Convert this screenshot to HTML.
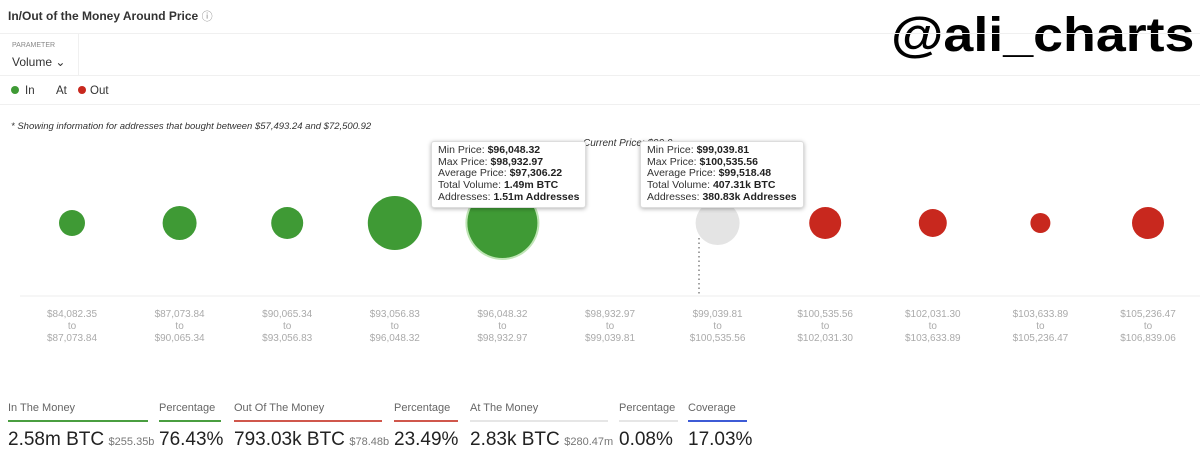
<!DOCTYPE html>
<html><head><meta charset="utf-8"><style>
body{margin:0;width:1200px;height:457px;background:#fff;font-family:"Liberation Sans",sans-serif;position:relative;overflow:hidden;color:#222}
.a{position:absolute;white-space:nowrap}
.tt{position:absolute;background:#fff;border:1px solid #ddd;box-shadow:0 1px 4px rgba(0,0,0,.3);border-radius:3px;padding:3px 6px;font-size:10.5px;line-height:11.7px;color:#333}
.tt b{color:#222}
.lab{font-size:11px;color:#666}
.val{font-size:19px;color:#222}
.sub{font-size:11px;color:#777}
</style></head><body>
<div class="a" style="left:8px;top:8px;font-size:12px;font-weight:bold;color:#333">In/Out of the Money Around Price <span style="font-weight:normal;color:#888;font-size:11px">ⓘ</span></div>
<div class="a" style="left:891px;top:8px;font-size:48px;font-weight:bold;color:#000;transform:scaleX(1.12);transform-origin:left top">@ali_charts</div>
<div class="a" style="left:0;top:33px;width:1200px;height:1px;background:#f0f0f0"></div>
<div class="a" style="left:78px;top:33px;width:1px;height:42px;background:#f0f0f0"></div>
<div class="a" style="left:12px;top:42px;font-size:7px;color:#888">PARAMETER</div>
<div class="a" style="left:12px;top:55px;font-size:12px;color:#333">Volume ⌄</div>
<div class="a" style="left:0;top:75px;width:1200px;height:1px;background:#f0f0f0"></div>
<div class="a" style="left:11px;top:85px;font-size:11.5px;color:#333"><span style="display:inline-block;width:8px;height:8px;border-radius:50%;background:#3f9a35;margin-right:6px"></span>In</div>
<div class="a" style="left:56px;top:85px;font-size:11.5px;color:#333">At</div>
<div class="a" style="left:78px;top:85px;font-size:11.5px;color:#333"><span style="display:inline-block;width:8px;height:8px;border-radius:50%;background:#c8281e;margin-right:4px"></span>Out</div>
<div class="a" style="left:0;top:104px;width:1200px;height:1px;background:#f0f0f0"></div>
<div class="a" style="left:11px;top:121px;font-size:9.5px;font-style:italic;color:#333">* Showing information for addresses that bought between $57,493.24 and $72,500.92</div>
<div class="a" style="left:583px;top:138px;font-size:10px;font-style:italic;color:#333">Current Price: $99,0</div>
<svg id="ch" class="a" style="left:0;top:0" width="1200" height="380"></svg>
<div class="tt" style="left:431px;top:141px">Min Price: <b>$96,048.32</b><br>Max Price: <b>$98,932.97</b><br>Average Price: <b>$97,306.22</b><br>Total Volume: <b>1.49m BTC</b><br>Addresses: <b>1.51m Addresses</b></div>
<div class="tt" style="left:640px;top:141px">Min Price: <b>$99,039.81</b><br>Max Price: <b>$100,535.56</b><br>Average Price: <b>$99,518.48</b><br>Total Volume: <b>407.31k BTC</b><br>Addresses: <b>380.83k Addresses</b></div>
<div id="ft"></div>
<script>
const lows=["$84,082.35","$87,073.84","$90,065.34","$93,056.83","$96,048.32","$98,932.97","$99,039.81","$100,535.56","$102,031.30","$103,633.89","$105,236.47"];
const highs=["$87,073.84","$90,065.34","$93,056.83","$96,048.32","$98,932.97","$99,039.81","$100,535.56","$102,031.30","$103,633.89","$105,236.47","$106,839.06"];
const radii=[13,17,16,27,35,0,22,16,14,10,16];
const kinds=["in","in","in","in","in","at","at","out","out","out","out"];
const NS="http://www.w3.org/2000/svg";
const svg=document.getElementById('ch');
const x=i=>72+i*107.6, cy=223;
const col={in:"#3f9a35",at:"#e4e4e4",out:"#c8281e"};
function mk(t,a){const e=document.createElementNS(NS,t);for(const k in a)e.setAttribute(k,a[k]);svg.appendChild(e);return e;}
const base=mk('line',{x1:20,x2:1200,y1:296,y2:296,stroke:'#eee'});


const dl=mk('line',{x1:699,x2:699,y1:238,y2:296,stroke:'#444','stroke-dasharray':'1.5 3'});


lows.forEach((l,i)=>{
 if(radii[i]>0){
  if(i===4){const h=mk('circle',{cx:x(i),cy:cy,r:radii[i]+2,fill:'#bfe5b5'});}
  const c=mk('circle',{cx:x(i),cy:cy,r:radii[i],fill:col[kinds[i]]});
  
  
 }
 [l,'to',highs[i]].forEach((s,j)=>{
  const t=mk('text',{x:x(i),y:317+j*12,'text-anchor':'middle','font-size':'10',fill:'#aaa','font-family':'Liberation Sans, sans-serif'});
  t.textContent=s;
  
  
 });
});
const stats=[["In The Money","2.58m BTC","$255.35b",8,140,"#4a9e40"],["Percentage","76.43%","",159,62,"#4a9e40"],["Out Of The Money","793.03k BTC","$78.48b",234,148,"#d0574c"],["Percentage","23.49%","",394,64,"#d0574c"],["At The Money","2.83k BTC","$280.47m",470,138,"#e6e6e6"],["Percentage","0.08%","",619,59,"#e6e6e6"],["Coverage","17.03%","",688,59,"#3d5bd6"]];
const ft=document.getElementById('ft');
stats.forEach(s=>{
 const d=document.createElement('div');
 d.className='a';d.style.left=s[3]+'px';d.style.top='402px';d.style.width=s[4]+'px';
 
 
 d.innerHTML='<div class="lab">'+s[0]+'</div><div style="height:2px;background:'+s[5]+';margin-top:6px"></div><div style="margin-top:7px"><span class="val">'+s[1]+'</span> <span class="sub">'+s[2]+'</span></div>';
 ft.appendChild(d);
});
</script>
</body></html>
